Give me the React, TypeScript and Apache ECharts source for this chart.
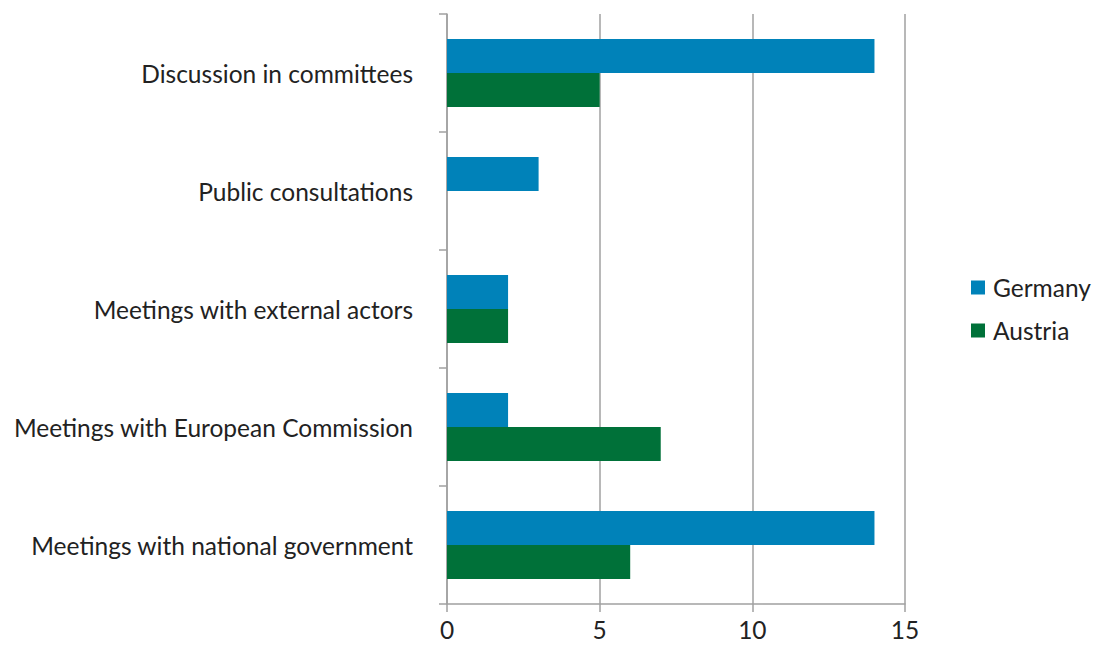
import React, { useEffect, useRef } from "react";
import * as echarts from "echarts";

const categories = [
  "Discussion in committees",
  "Public consultations",
  "Meetings with external actors",
  "Meetings with European Commission",
  "Meetings with national government",
];
const germany = [14, 3, 2, 2, 14];
const austria = [5, 0, 2, 7, 6];
const xTicks = [0, 5, 10, 15];

const FONT = "Lato";
const FS = 24.5;

export default function App() {
  const ref = useRef<HTMLDivElement>(null);
  useEffect(() => {
    if (!ref.current) return;
    const chart = echarts.init(ref.current, undefined, { renderer: "svg" });
    chart.setOption({
      animation: false,
      backgroundColor: "#ffffff",
      textStyle: { fontFamily: FONT },
      grid: { left: 447, right: 189, top: 14, bottom: 42, containLabel: false },
      legend: {
        orient: "vertical",
        left: 966,
        top: 270,
        itemWidth: 14,
        itemHeight: 14,
        itemGap: 18,
        icon: "rect",
        textStyle: { fontFamily: FONT, fontSize: FS, color: "#222222", padding: [0, 0, 0, 3] },
        data: ["Germany", "Austria"],
      },
      xAxis: {
        type: "value",
        min: xTicks[0],
        max: xTicks[xTicks.length - 1],
        interval: 5,
        axisLine: { show: true, lineStyle: { color: "#a0a0a0", width: 1.5 } },
        axisTick: { show: true, length: 8, lineStyle: { color: "#a0a0a0", width: 1.5 } },
        axisLabel: { fontFamily: FONT, fontSize: FS, color: "#222222", margin: 13 },
        splitLine: { show: true, lineStyle: { color: "#a0a0a0", width: 1.5 } },
      },
      yAxis: {
        type: "category",
        inverse: true,
        data: categories,
        axisLine: { show: true, lineStyle: { color: "#a0a0a0", width: 1.5 } },
        axisTick: { show: true, length: 8, lineStyle: { color: "#a0a0a0", width: 1.5 } },
        axisLabel: { fontFamily: FONT, fontSize: FS, color: "#222222", margin: 34 },
      },
      series: [
        {
          name: "Germany",
          type: "bar",
          data: germany,
          barWidth: 34,
          barGap: "0%",
          itemStyle: { color: "#0082B9" },
        },
        {
          name: "Austria",
          type: "bar",
          data: austria,
          barWidth: 34,
          barGap: "0%",
          itemStyle: { color: "#007139" },
        },
      ],
    });
    return () => chart.dispose();
  }, []);
  return (
    <div
      ref={ref}
      style={{ position: "fixed", left: 0, top: 0, width: 1094, height: 646 }}
    />
  );
}
